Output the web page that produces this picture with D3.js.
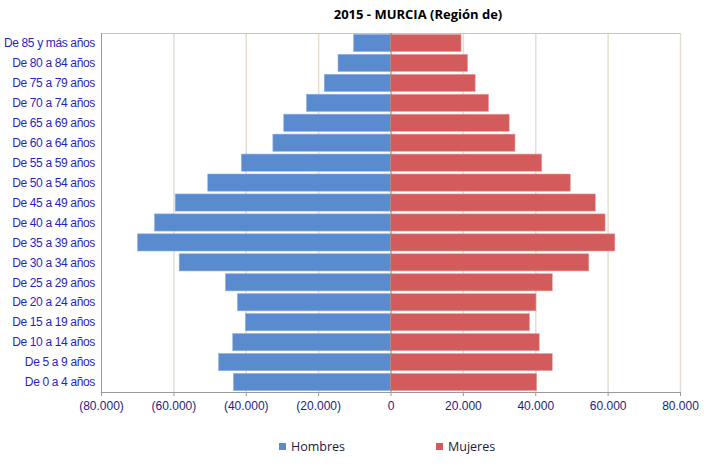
<!DOCTYPE html>
<html><head><meta charset="utf-8">
<script src="https://cdn.jsdelivr.net/npm/d3@7"></script>
<style>body{margin:0;background:#fff;}svg{display:block;}</style>
</head><body>
<svg id="c" width="710" height="468"></svg>
<script>
const title = "2015 - MURCIA (Región de)";
const categories = ["De 85 y más años","De 80 a 84 años","De 75 a 79 años","De 70 a 74 años","De 65 a 69 años","De 60 a 64 años","De 55 a 59 años","De 50 a 54 años","De 45 a 49 años","De 40 a 44 años","De 35 a 39 años","De 30 a 34 años","De 25 a 29 años","De 20 a 24 años","De 15 a 19 años","De 10 a 14 años","De 5 a 9 años","De 0 a 4 años"];
const hombres = [10200,14500,18300,23200,29500,32500,41200,50500,59500,65200,69900,58400,45600,42300,40100,43600,47500,43400];
const mujeres = [19500,21300,23400,27100,32800,34400,41800,49700,56600,59300,62000,54800,44700,40200,38400,41100,44700,40400];
const ticks = [-80000,-60000,-40000,-20000,0,20000,40000,60000,80000];
const seriesNames = ["Hombres","Mujeres"];
const colors = ["#5a8bcf","#d35b5b"];

const svg = d3.select("#c");
const L = 101, R = 680, T = 33, B = 392;
const x = d3.scaleLinear().domain([-80000,80000]).range([L,R]);
const y = d3.scaleBand().domain(categories).range([T,B]).paddingInner(0.14).paddingOuter(0.07);

const fmt = v => {
  const s = d3.format(",")(Math.abs(v)).replace(/,/g,".");
  return v < 0 ? "(" + s + ")" : s;
};

// gridlines
svg.append("g").selectAll("line").data(ticks.filter(t=>t!==-80000 && t!==0)).join("line")
  .attr("x1",d=>x(d)+0.5).attr("x2",d=>x(d)+0.5).attr("y1",T).attr("y2",B)
  .attr("stroke","#e6ded2").attr("stroke-width",1.5);
// top border
svg.append("line").attr("x1",L).attr("x2",R).attr("y1",T+0.5).attr("y2",T+0.5).attr("stroke","#c4c4c4");

// bars
svg.append("g").selectAll("rect").data(categories).join("rect")
  .attr("x",(d,i)=>x(-hombres[i])).attr("width",(d,i)=>x(0)-x(-hombres[i]))
  .attr("y",d=>y(d)).attr("height",y.bandwidth())
  .attr("fill",colors[0]).attr("stroke","#8fb0e0").attr("stroke-width",0.6);
svg.append("g").selectAll("rect").data(categories).join("rect")
  .attr("x",x(0)).attr("width",(d,i)=>x(mujeres[i])-x(0))
  .attr("y",d=>y(d)).attr("height",y.bandwidth())
  .attr("fill",colors[1]).attr("stroke","#e8a0a0").attr("stroke-width",0.6);

// zero axis
svg.append("line").attr("x1",x(0)+0.5).attr("x2",x(0)+0.5).attr("y1",T).attr("y2",B).attr("stroke","#808080").attr("stroke-width",1);
// left axis line
svg.append("line").attr("x1",L+0.5).attr("x2",L+0.5).attr("y1",T).attr("y2",B+4).attr("stroke","#9a9a9a");

// bottom axis
const xa = svg.append("g").attr("transform",`translate(0,${B})`)
  .call(d3.axisBottom(x).tickValues(ticks).tickFormat(fmt).tickSize(4).tickSizeOuter(0).tickPadding(5));
xa.select(".domain").attr("stroke","#9a9a9a");
xa.selectAll(".tick line").attr("stroke","#9a9a9a");
xa.selectAll("text").attr("font-family","Liberation Sans, Arial, sans-serif").attr("font-size","12px").attr("fill","#1d1d7a");

// category labels
svg.append("g").selectAll("text").data(categories).join("text")
  .attr("x",95).attr("y",d=>y(d)+y.bandwidth()/2).attr("dy","0.35em")
  .attr("text-anchor","end").attr("font-family","Liberation Sans, Arial, sans-serif").attr("font-size","12px")
  .attr("letter-spacing","-0.35px")
  .attr("fill","#2a1fc0").text(d=>d);

// title
svg.append("text").attr("x",418).attr("y",19).attr("text-anchor","middle")
  .attr("font-family","Open Sans, sans-serif").attr("font-weight","bold").attr("font-size","13px")
  .attr("fill","#000").text(title);

// legend
const lg = svg.append("g");
const lx = [279,436];
seriesNames.forEach((n,i)=>{
  lg.append("rect").attr("x",lx[i]).attr("y",443).attr("width",7).attr("height",7).attr("fill",colors[i]);
  lg.append("text").attr("x",lx[i]+12).attr("y",447).attr("dy","0.35em")
    .attr("font-family","Open Sans, sans-serif").attr("font-size","12.5px").attr("fill","#1a1a40").text(n);
});
</script>
</body></html>
